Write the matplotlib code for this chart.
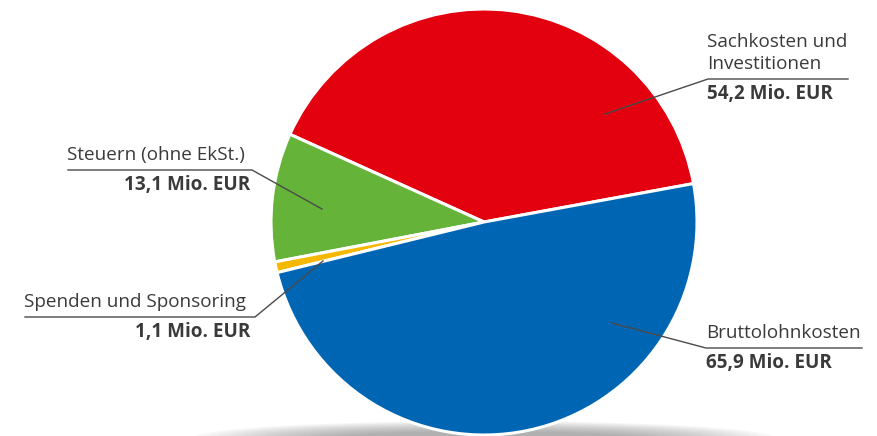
import matplotlib.pyplot as plt
from matplotlib.patches import Ellipse

# Values (Mio. EUR)
labels = ["Sachkosten und\nInvestitionen", "Steuern (ohne EkSt.)", "Spenden und Sponsoring", "Bruttolohnkosten"]
values = [54.2, 13.1, 1.1, 65.9]
value_labels = ["54,2 Mio. EUR", "13,1 Mio. EUR", "1,1 Mio. EUR", "65,9 Mio. EUR"]
colors = ["#E3000F", "#66B33A", "#F5B800", "#0066B3"]

W, H = 878, 436
fig = plt.figure(figsize=(W / 100, H / 100), dpi=100)
ax = fig.add_axes([0, 0, 1, 1])

plt.rcParams['font.family'] = ['Open Sans', 'DejaVu Sans']
txt_col = "#3a3a3a"
line_col = "#4a4a4a"

def py(y):
    # pixel y (from top) -> data y
    return H - y

# soft shadow under the pie
for i in range(14):
    w = 580 - i * 22
    h = 34 - i * 1.6
    ax.add_patch(Ellipse((484, py(438)), w, h, color="#707070", alpha=0.05, lw=0, zorder=0))

cx, cy, r = 484, py(222), 213
ax.pie(values, colors=colors, startangle=10.4, counterclock=True,
       center=(cx, cy), radius=r, frame=True,
       wedgeprops=dict(edgecolor="white", linewidth=2.2))
ax.set_xlim(0, W)
ax.set_ylim(0, H)
ax.set_aspect("equal")
ax.axis("off")

fs = 13.6

# Sachkosten
ax.plot([605, 708, 848], [py(114), py(79), py(79)], color=line_col, lw=1, zorder=5)
ax.text(707, py(73), labels[0], ha="left", va="bottom", fontsize=fs, color=txt_col,
        linespacing=1.3)
ax.text(707, py(84), value_labels[0], ha="left", va="top", fontsize=fs, color=txt_col,
        fontweight="bold")

# Steuern
ax.plot([68, 252, 322], [py(170), py(170), py(209)], color=line_col, lw=1, zorder=5)
ax.text(67, py(164), labels[1], ha="left", va="bottom", fontsize=fs, color=txt_col)
ax.text(250, py(175), value_labels[1], ha="right", va="top", fontsize=fs, color=txt_col,
        fontweight="bold")

# Spenden
ax.plot([25, 255, 323], [py(317), py(317), py(261)], color=line_col, lw=1, zorder=5)
ax.text(24, py(311), labels[2], ha="left", va="bottom", fontsize=fs, color=txt_col)
ax.text(250, py(322), value_labels[2], ha="right", va="top", fontsize=fs, color=txt_col,
        fontweight="bold")

# Bruttolohnkosten
ax.plot([612, 706, 862], [py(323), py(348), py(348)], color=line_col, lw=1, zorder=5)
ax.text(706, py(342), labels[3], ha="left", va="bottom", fontsize=fs, color=txt_col)
ax.text(706, py(353), value_labels[3], ha="left", va="top", fontsize=fs, color=txt_col,
        fontweight="bold")

fig.savefig("out.png", dpi=100)
